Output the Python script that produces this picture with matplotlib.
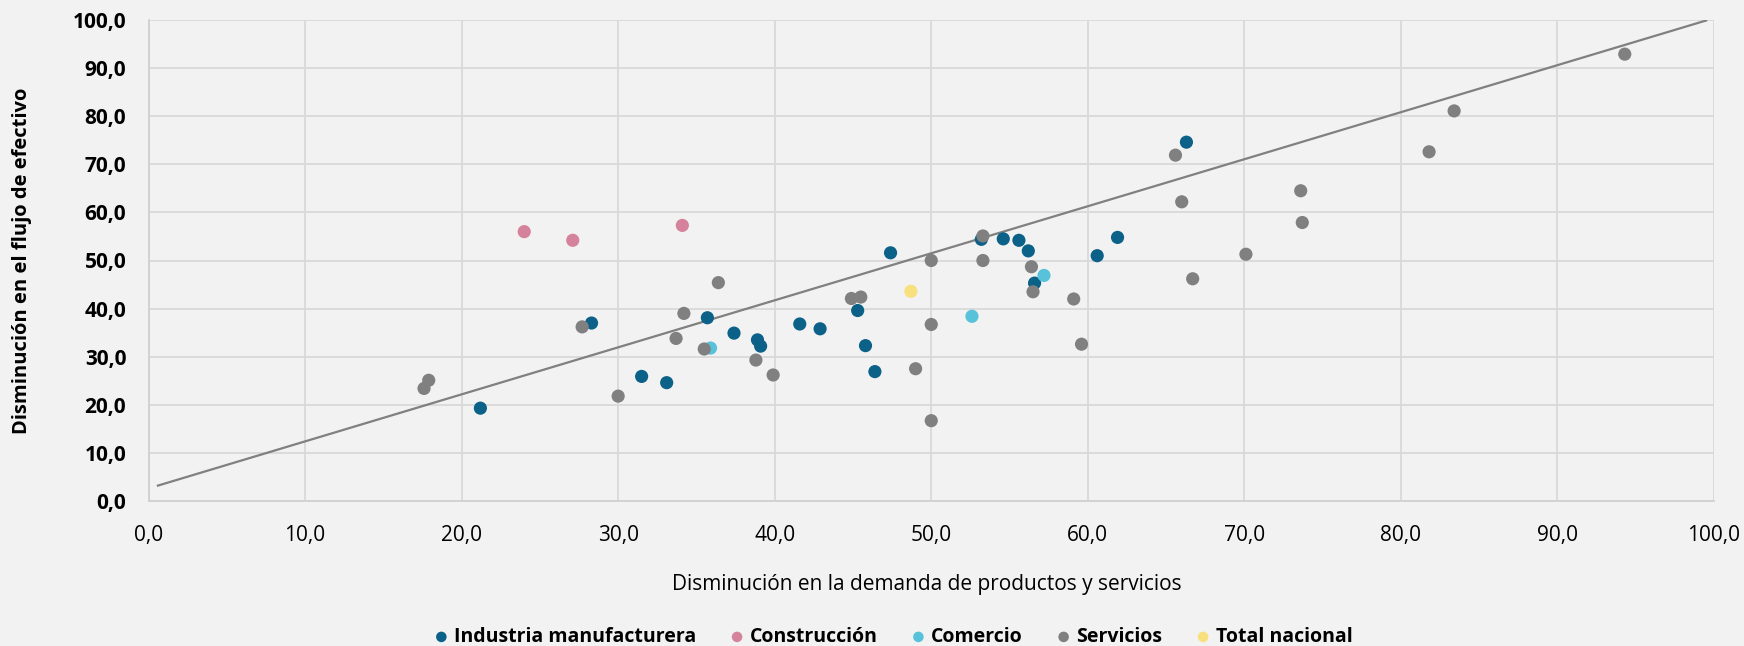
import matplotlib
matplotlib.use("Agg")
import matplotlib.pyplot as plt
from matplotlib.ticker import FuncFormatter, MultipleLocator

plt.rcParams["font.family"] = ["Open Sans", "DejaVu Sans"]

# ----------------------------------------------------------------------
# Data
# ----------------------------------------------------------------------
ind_x = [21.2, 28.3, 31.5, 33.1, 35.7, 37.4, 38.9, 39.1, 41.6, 42.9, 45.3,
         45.8, 46.4, 47.4, 53.2, 54.6, 55.6, 56.2, 56.6, 60.6, 61.9, 66.3]
ind_y = [19.3, 37.0, 25.9, 24.6, 38.1, 34.9, 33.5, 32.2, 36.8, 35.8, 39.6,
         32.3, 26.9, 51.6, 54.4, 54.5, 54.2, 52.0, 45.3, 51.0, 54.8, 74.6]

con_x = [24.0, 27.1, 34.1]
con_y = [56.0, 54.2, 57.3]

com_x = [35.9, 52.6, 57.2]
com_y = [31.8, 38.4, 46.9]

ser_x = [17.6, 17.9, 27.7, 30.0, 33.7, 34.2, 35.5, 36.4, 38.8, 39.9, 44.9,
         45.5, 49.0, 50.0, 50.0, 50.0, 53.3, 53.3, 56.4, 56.5, 59.1, 59.6,
         65.6, 66.0, 66.7, 70.1, 73.6, 73.7, 81.8, 83.4, 94.3]
ser_y = [23.4, 25.1, 36.2, 21.8, 33.8, 39.0, 31.6, 45.4, 29.3, 26.2, 42.1,
         42.4, 27.5, 16.7, 36.7, 50.0, 55.1, 50.0, 48.7, 43.5, 42.0, 32.6,
         71.9, 62.2, 46.2, 51.3, 64.5, 57.9, 72.6, 81.1, 92.9]

tot_x = [48.7]
tot_y = [43.6]

# linear trend line endpoints
trend_x = [0.6, 99.5]
trend_y = [3.2, 99.9]

series = [
    ("Industria manufacturera", ind_x, ind_y, "#0B6187"),
    ("Construcción", con_x, con_y, "#D5839C"),
    ("Comercio", com_x, com_y, "#57C2D9"),
    ("Servicios", ser_x, ser_y, "#808080"),
    ("Total nacional", tot_x, tot_y, "#F7E07D"),
]

# ----------------------------------------------------------------------
# Plot
# ----------------------------------------------------------------------
bg = "#F2F2F2"
fig = plt.figure(figsize=(17.44, 6.46), dpi=100, facecolor=bg)
ax = fig.add_axes([148.5 / 1744, 1 - 501 / 646,
                   (1714 - 148.5) / 1744, 481 / 646])
ax.set_facecolor(bg)

ax.plot(trend_x, trend_y, color="#808080", lw=1.6, zorder=2)

for name, xs, ys, col in series:
    ax.scatter(xs, ys, s=90, color=col, edgecolors="none", label=name,
               zorder=3)

ax.set_xlim(0, 100)
ax.set_ylim(0, 100)
ax.xaxis.set_major_locator(MultipleLocator(10))
ax.yaxis.set_major_locator(MultipleLocator(10))
fmt = FuncFormatter(lambda v, _: f"{v:.1f}".replace(".", ","))
ax.xaxis.set_major_formatter(fmt)
ax.yaxis.set_major_formatter(fmt)

ax.grid(True, color="#D9D9D9", lw=1.3)
ax.set_axisbelow(True)
for side in ["top", "right"]:
    ax.spines[side].set_visible(False)
for side in ["left", "bottom"]:
    ax.spines[side].set_color("#D0D0D0")
    ax.spines[side].set_linewidth(1.3)

ax.tick_params(length=0)
ax.tick_params(axis="x", labelsize=15, pad=17)
ax.tick_params(axis="y", labelsize=15, pad=16)
for lab in ax.get_yticklabels():
    lab.set_fontweight("bold")

ax.set_xlabel("Disminución en la demanda de productos y servicios",
              fontsize=15, va="center")
ax.xaxis.set_label_coords(0.497, -0.1746)
ax.set_ylabel("Disminución en el flujo de efectivo",
              fontsize=14.5, fontweight="bold", va="center")
ax.yaxis.set_label_coords(-0.0808, 0.5)

fig.legend(loc="center", bbox_to_anchor=(894 / 1744, 1 - 637 / 646),
           ncol=5, frameon=False, markerscale=0.8, handlelength=0.6,
           handletextpad=0.35, columnspacing=1.8,
           prop={"size": 14, "weight": "bold"})

fig.savefig("out.png", dpi=100, facecolor=bg)
